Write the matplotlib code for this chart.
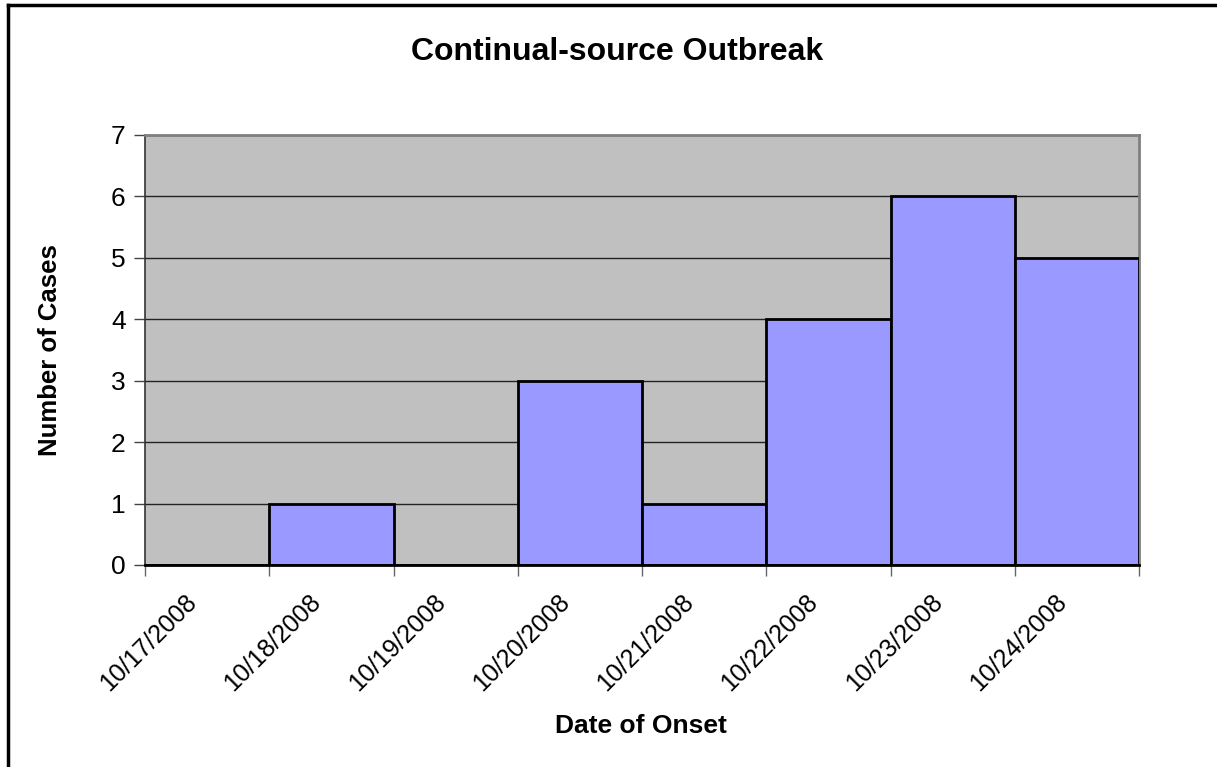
import matplotlib
matplotlib.use('Agg')
import matplotlib.pyplot as plt
from matplotlib.lines import Line2D
from matplotlib.transforms import ScaledTranslation

plt.rcParams['font.family'] = ['Liberation Sans', 'DejaVu Sans']

# case counts per day of onset
dates = ['10/17/2008', '10/18/2008', '10/19/2008', '10/20/2008',
         '10/21/2008', '10/22/2008', '10/23/2008', '10/24/2008']
cases = [0, 1, 0, 3, 1, 4, 6, 5]

W, H = 1217, 767
fig = plt.figure(figsize=(W / 100, H / 100), dpi=100)
ax = fig.add_axes([145 / W, 1 - 565 / H, 994 / W, 430 / H])

ax.set_facecolor('#C0C0C0')
x = list(range(len(dates)))
ax.bar(x, cases, width=1.0, color='#9999FF', edgecolor='black', linewidth=2, zorder=3)

ax.set_xlim(-0.5, len(dates) - 0.5)
ax.set_ylim(0, 7)
ax.set_yticks(range(0, 8))
ax.yaxis.grid(True, color='#222222', linewidth=1, zorder=1)
ax.set_axisbelow(True)

# category labels at centres, tick marks on boundaries
ax.set_xticks(x)
ax.set_xticklabels(dates, rotation=45, ha='right', va='center', rotation_mode='anchor', fontsize=18)
ax.tick_params(axis='x', which='major', length=0, pad=24)
shift = ScaledTranslation(-14 / 100, 0, fig.dpi_scale_trans)
for lbl in ax.get_xticklabels():
    lbl.set_transform(lbl.get_transform() + shift)
ax.set_xticks([i - 0.5 for i in range(len(dates) + 1)], minor=True)
ax.tick_params(axis='x', which='minor', length=8, width=1, color='#666666', direction='out')
ax.tick_params(axis='y', length=8, width=1, color='#444444', labelsize=19, pad=6)

for s in ['top', 'right']:
    ax.spines[s].set_color('#808080')
    ax.spines[s].set_linewidth(2)
ax.spines['left'].set_color('#333333')
ax.spines['left'].set_linewidth(1.2)
ax.spines['bottom'].set_color('black')
ax.spines['bottom'].set_linewidth(2)
ax.spines['bottom'].set_zorder(4)

fig.text(617 / W, 1 - 52 / H, 'Continual-source Outbreak', ha='center', va='center',
         fontsize=23, fontweight='bold')
fig.text(641 / W, 1 - 726 / H, 'Date of Onset', ha='center', va='center',
         fontsize=19, fontweight='bold')
fig.text(50 / W, 1 - 350 / H, 'Number of Cases', ha='center', va='center',
         rotation=90, fontsize=18.5, fontweight='bold')

# chart frame
fig.lines.append(Line2D([8 / W, 8 / W], [0, 1 - 5 / H], transform=fig.transFigure, color='black', linewidth=2.5))
fig.lines.append(Line2D([8 / W, 1], [1 - 5 / H, 1 - 5 / H], transform=fig.transFigure, color='black', linewidth=2.5))

fig.savefig('out.png', dpi=100)
